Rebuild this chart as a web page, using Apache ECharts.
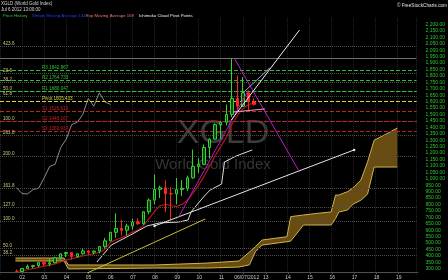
<!DOCTYPE html>
<html><head><meta charset="utf-8">
<script src="https://cdn.jsdelivr.net/npm/echarts@6/dist/echarts.min.js"></script>
<style>html,body{margin:0;padding:0;background:#000;}#c{width:448px;height:280px;}</style>
</head><body><div id="c"></div>
<script>
// ---------- data ----------
const quarters = [2001.75,
  2002,2002.25,2002.5,2002.75, 2003,2003.25,2003.5,2003.75, 2004,2004.25,2004.5,2004.75,
  2005,2005.25,2005.5,2005.75, 2006,2006.25,2006.5,2006.75, 2007,2007.25,2007.5,2007.75,
  2008,2008.25,2008.5,2008.75, 2009,2009.25,2009.5,2009.75, 2010,2010.25,2010.5,2010.75,
  2011,2011.25,2011.5,2011.75, 2012,2012.25,2012.5];
const opens  = [279, 278,302,318,324, 347,336,346,385, 416,426,394,416, 438,428,437,473, 517,583,614,599, 632,663,650,743, 834,917,930,884, 882,916,926,1007, 1096,1113,1243,1308, 1421,1439,1500,1624, 1564,1669,1598];
const closes = [278, 302,318,324,347, 336,346,385,416, 426,394,416,438, 428,437,473,517, 583,614,599,632, 663,650,743,834, 917,930,884,882, 916,926,1007,1096, 1113,1243,1308,1421, 1439,1500,1624,1564, 1669,1598,1579];
const highs  = [294, 305,332,330,350, 390,377,393,417, 432,430,416,456, 446,441,475,540, 587,730,680,650, 690,692,745,846, 1033,946,988,935, 1006,990,1024,1227, 1160,1266,1315,1431, 1448,1577,1935,1803, 1791,1678,1625];
const lows   = [271, 277,298,302,312, 320,319,342,370, 390,371,385,410, 411,412,418,456, 515,542,560,560, 603,640,642,723, 800,850,740,681, 802,865,905,1000, 1044,1105,1157,1305, 1308,1415,1478,1523, 1560,1527,1570];

const emaValues = [280, 285,292,300,310, 320,328,338,352, 368,378,388,400, 408,416,428,450, 505,525,540,560, 585,600,635,690, 745,790,800,790, 785,800,835,890, 950,1020,1100,1180, 1250,1320,1420,1490, 1545,1575,1590];

const kijunX = [2005.39,2006.04,2006.91,2007.65,2008.22,2009.09,2009.52,2009.65,2010.26,2010.52,2011.04,2011.17,2011.70,2012.43];
const kijunY = [352,484,562,632,656,663,679,741,866,912,959,1130,1177,1224];

const laggingX = [2001.75,2002,2002.25,2002.5,2002.75,2003,2003.25,2003.5,2003.75,2004,2004.25,2004.5,2004.75,2005,2005.25,2005.5,2005.75,2006];
const laggingY = [930,884,882,916,926,1007,1096,1113,1243,1308,1421,1439,1500,1624,1564,1669,1598,1579];

const cloudX     = [2001.7,2003.9,2004.1,2008.0,2010.4,2011.83,2012.3,2012.57,2012.87,2014.0,2014.17,2014.75,2015.5,2016.0,2016.2,2016.35,2016.75,2017.0,2017.35,2017.65,2017.95,2018.5,2019.0];
const cloudUpper = [383,383,329,329,344,360,430,471,523,549,705,718,733,741,873,873,900,930,990,1130,1300,1348,1395];
const cloudLower = [360,360,298,305,305,313,330,432,484,510,515,640,640,640,690,741,757,803,833,880,1091,1091,1091];

const pivotNames  = ['R3','R2','R1','Pivot','S1','S2','S3'];
const pivotValues = [1842.867,1764.733,1680.047,1605.433,1526.613,1448.167,1369.933];

const fibLabels = ['423.6','23.6','38.2','50.0','61.8','100.0','261.8','200.0','161.8','127.0','100.0','50.0','38.2'];
const fibValues = [2029,1820,1747,1683,1638,1451,1340,1177,926,782,673,459,407];

const highLevel = 1935;
const lastPrice = 1578.90;

const trendWhite       = [[2008.0,632],[2017.04,1224]];
const trendYellow      = [[2004.96,267],[2010.30,687]];
const trendMagentaDown = [[2011.61,1939],[2014.57,1052]];
const trendMagentaUp   = [[2009.09,702],[2012.26,1691]];
const trendWhiteSteep  = [[2011.48,1457],[2014.57,2157]];
const trendLavender    = [[2012.0,1667],[2013.22,1862]];
const trendPink        = [[2011.57,1519],[2013.0,1543]];

const annoText = ['1','2','3','4','5'];
const annoX    = [2007.87,2008.87,2012.13,2013.13,2015.7];
const annoY    = [1177,640,1939,1395,2025];

// ---------- chart ----------
const FONT = '"Liberation Sans", Arial, sans-serif';
function fmtNum(v){
  const p = (Math.round(v*100)/100).toFixed(2).split('.');
  p[0] = p[0].replace(/\B(?=(\d{3})+(?!\d))/g, ',');
  return p.join('.');
}
const pivotColor = n => n.startsWith('R') ? '#2ec22e' : (n === 'Pivot' ? '#d6d23a' : '#c42020');
const annoColor = {'1':'#2ee02e','2':'#2ee02e','3':'#ee2a2a','4':'#7cf07c','5':'#dd2020'};
const trendStyle = [
  [trendWhite,'#e6e6e6',true],[trendYellow,'#c9c030',false],[trendMagentaDown,'#c21ec2',false],
  [trendMagentaUp,'#b01cc0',false],[trendWhiteSteep,'#f0f0f0',false],[trendLavender,'#a898d8',false],
  [trendPink,'#e8a2c8',false]
];

const series = [];
series.push({
  type:'custom', xAxisIndex:0, yAxisIndex:0, z:1, silent:true,
  data:[[cloudX[0], cloudLower[0]]],
  renderItem:(params, api) => {
    const top = cloudX.map((x,i)=>api.coord([x, cloudUpper[i]]));
    const bot = cloudX.map((x,i)=>api.coord([x, cloudLower[i]])).reverse();
    return {type:'polygon', shape:{points: top.concat(bot)}, style:{fill:'#684c12'}};
  }
});
[cloudUpper, cloudLower].forEach(arr => series.push({
  type:'line', xAxisIndex:0, yAxisIndex:0, z:2, silent:true, showSymbol:false,
  data: cloudX.map((x,i)=>[x, arr[i]]),
  lineStyle:{color:'#cdb44c', width:1}
}));
series.push({
  type:'line', xAxisIndex:0, yAxisIndex:0, data:[], z:3,
  markLine:{
    silent:true, symbol:['none','none'], animation:false,
    label:{fontSize:4.6, fontFamily:FONT},
    data: [
      ...fibValues.map((v,i)=>({yAxis:v, lineStyle:{color:'#4e4e4e', type:'dotted', width:1},
        label:{show:true, position:'insideStartTop', distance:[3,0], formatter:fibLabels[i], color:'#cfc77a'}})),
      ...pivotValues.map((v,i)=>({yAxis:v, lineStyle:{color:pivotColor(pivotNames[i]), type:[4,2], width:1},
        label:{show:true, position:'insideStartTop', distance:[42,0], formatter:pivotNames[i]+' '+v.toFixed(3), color:pivotColor(pivotNames[i])}})),
      {yAxis:highLevel, lineStyle:{color:'#707070', type:'solid', width:1}, label:{show:false}},
      {yAxis:lastPrice, lineStyle:{opacity:0}, label:{show:true, position:'end', distance:9, formatter:fmtNum(lastPrice),
        fontSize:5, color:'#fff', backgroundColor:'#000', borderColor:'#ddd', borderWidth:1, padding:[1,1,0,1]}}
    ]
  }
});
series.push({type:'line', xAxisIndex:0, yAxisIndex:0, z:4, showSymbol:false, silent:true,
  data: quarters.map((q,i)=>[q, emaValues[i]]), lineStyle:{color:'#b01616', width:1.2}});
series.push({type:'line', xAxisIndex:0, yAxisIndex:0, z:4, showSymbol:false, silent:true,
  data: kijunX.map((x,i)=>[x, kijunY[i]]), lineStyle:{color:'#dcdcdc', width:1}});
series.push({type:'line', xAxisIndex:0, yAxisIndex:0, z:4, showSymbol:false, silent:true,
  data: laggingX.map((x,i)=>[x, laggingY[i]]), lineStyle:{color:'#8c8c8c', width:1}});
series.push({
  type:'candlestick', xAxisIndex:0, yAxisIndex:0, z:5, barWidth:3,
  data: quarters.map((q,i)=>[q, opens[i], closes[i], lows[i], highs[i]]),
  encode:{x:0, y:[1,2,3,4]},
  itemStyle:{color:'#0e420e', color0:'#ff2424', borderColor:'#2fd42f', borderColor0:'#ff2424', borderWidth:1}
});
trendStyle.forEach(([pts,col,dot]) => series.push({
  type:'line', xAxisIndex:0, yAxisIndex:0, z:6, silent:true,
  showSymbol:dot, symbol:'circle', symbolSize:2.5,
  data: pts, lineStyle:{color:col, width:1}, itemStyle:{color:col}
}));
series.push({
  type:'scatter', xAxisIndex:0, yAxisIndex:0, z:7, symbolSize:1, itemStyle:{opacity:0},
  data: annoText.map((t,i)=>({value:[annoX[i], annoY[i]],
    label:{show:true, position:'inside', formatter:t, color:annoColor[t], fontSize:9, fontWeight:'bold', fontFamily:FONT}}))
});
series.push({type:'line', xAxisIndex:1, yAxisIndex:1, data:[]});

const chart = echarts.init(document.getElementById('c'));
chart.setOption({
  animation:false,
  backgroundColor:'#000',
  grid:[
    {left:-16, width:434, top:18.07, height:257.06},
    {left:-16, width:434, top:271, height:1}
  ],
  xAxis:[
    {gridIndex:0, type:'value', min:2001, max:2019.87, interval:1,
     axisLine:{show:false}, axisTick:{show:false}, axisLabel:{show:false},
     splitLine:{show:true, lineStyle:{color:'#262626', type:'dotted'}}},
    {gridIndex:1, type:'value', min:2001, max:2019.87, interval:1,
     axisLine:{show:true, lineStyle:{color:'#505050'}}, axisTick:{show:true, length:2, lineStyle:{color:'#505050'}},
     splitLine:{show:false},
     axisLabel:{color:'#c8c8c8', fontSize:5, fontFamily:FONT, margin:3, showMinLabel:false, showMaxLabel:false,
       formatter: v => { const y = Math.round(v); return y === 2012 ? '{d|06/07/2012}' : String(y % 100).padStart(2,'0'); },
       rich:{d:{fontSize:5, fontFamily:FONT, color:'#c8c8c8', padding:[0,0,0,6]}}}}
  ],
  yAxis:[
    {gridIndex:0, type:'value', position:'right', min:250, max:2250, interval:50,
     axisLine:{show:false}, axisTick:{show:false}, splitLine:{show:false},
     axisLabel:{color:'#2ec82e', fontSize:5, fontFamily:FONT, margin:9, showMinLabel:false, showMaxLabel:false,
       formatter: v => fmtNum(v)}},
    {gridIndex:1, type:'value', show:false}
  ],
  graphic:[
    {type:'text', x:223, y:134, z:0, style:{text:'XGLD', fill:'#3c3c3c', fontSize:34, fontFamily:FONT, align:'center', verticalAlign:'middle'}},
    {type:'text', x:213, y:165, z:0, style:{text:'World Gold Index', fill:'#363636', fontSize:15, fontFamily:FONT, align:'center', verticalAlign:'middle'}},
    {type:'text', x:1, y:1.5, style:{text:'XGLD (World Gold Index)', fill:'#d8d8d8', fontSize:4.5, fontFamily:FONT}},
    {type:'text', x:1, y:7.5, style:{text:'Jul 6 2012 13:00:00', fill:'#d8d8d8', fontSize:4.5, fontFamily:FONT}},
    {type:'text', x:3, y:13.5, style:{text:'Price History', fill:'#36c836', fontSize:4.3, fontFamily:FONT}},
    {type:'text', x:32, y:13.5, style:{text:'Simple Moving Average 144', fill:'#2a3cff', fontSize:4.3, fontFamily:FONT}},
    {type:'text', x:86, y:13.5, style:{text:'Exp Moving Average 169', fill:'#f07a7a', fontSize:4.3, fontFamily:FONT}},
    {type:'text', x:139, y:13.5, style:{text:'Ichimoku Cloud', fill:'#f0f0f0', fontSize:4.3, fontFamily:FONT}},
    {type:'text', x:170, y:13.5, style:{text:'Pivot Points', fill:'#f0f0f0', fontSize:4.3, fontFamily:FONT}},
    {type:'text', x:447, y:3, style:{text:'\u00a9 FreeStockCharts.com', fill:'#e0e0e0', fontSize:4.7, fontFamily:FONT, align:'right'}}
  ],
  series
});
</script>
</body></html>
